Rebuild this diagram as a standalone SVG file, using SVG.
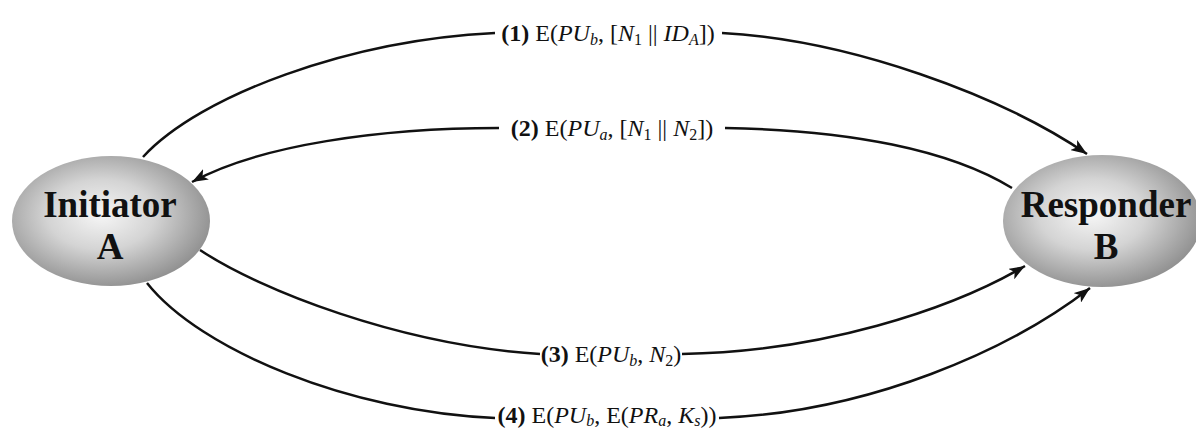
<svg xmlns="http://www.w3.org/2000/svg" width="1196" height="429" viewBox="0 0 1196 429">
<style>
.lbl{font-family:"Liberation Serif","Times New Roman",serif;font-size:24px;fill:#111;}
.node{font-family:"Liberation Serif","Times New Roman",serif;font-size:37px;font-weight:bold;fill:#111;text-anchor:middle;}
.i{font-style:italic;}
.b{font-weight:bold;}
.sub{font-size:16px;}
.conn{fill:none;stroke:#111;stroke-width:2.5;}
</style>
<defs>
<radialGradient id="g" cx="45%" cy="45%" r="60%">
<stop offset="0" stop-color="#f6f6f6"/>
<stop offset="0.45" stop-color="#d4d4d4"/>
<stop offset="1" stop-color="#8a8a8a"/>
</radialGradient>
<marker id="arr" markerUnits="userSpaceOnUse" markerWidth="18" markerHeight="12" refX="16" refY="6" orient="auto">
<path d="M0,0 L16,6 L0,12 L4,6 Z" fill="#111"/>
</marker>
</defs>
<rect width="1196" height="429" fill="#fff"/>
<g id="connectors">
<path class="conn" d="M143,157 C200,95 350,40 495,33"/>
<path class="conn" d="M722,33 C850,40 1000,95 1087,154" marker-end="url(#arr)"/>
<path class="conn" d="M1012,188 C950,150 850,130 725,128"/>
<path class="conn" d="M499,128 C380,128 260,145 192,182" marker-end="url(#arr)"/>
<path class="conn" d="M200,250 C260,290 400,345 540,354"/>
<path class="conn" d="M682,354 C820,352 950,310 1025,266" marker-end="url(#arr)"/>
<path class="conn" d="M147,283 C200,350 350,412 495,418"/>
<path class="conn" d="M719,418 C870,412 1010,350 1090,288" marker-end="url(#arr)"/>
</g>
<g id="label1">
<text class="lbl" x="608" y="41" text-anchor="middle"><tspan class="b">(1)</tspan> E(<tspan class="i">PU</tspan><tspan class="i sub" dy="4">b</tspan><tspan dy="-4">, [</tspan><tspan class="i">N</tspan><tspan class="sub" dy="4">1</tspan><tspan dy="-4"> || </tspan><tspan class="i">ID</tspan><tspan class="i sub" dy="4">A</tspan><tspan dy="-4">])</tspan></text>
</g>
<g id="label2">
<text class="lbl" x="612" y="136" text-anchor="middle"><tspan class="b">(2)</tspan> E(<tspan class="i">PU</tspan><tspan class="i sub" dy="4">a</tspan><tspan dy="-4">, [</tspan><tspan class="i">N</tspan><tspan class="sub" dy="4">1</tspan><tspan dy="-4"> || </tspan><tspan class="i">N</tspan><tspan class="sub" dy="4">2</tspan><tspan dy="-4">])</tspan></text>
</g>
<g id="label3">
<text class="lbl" x="611" y="362" text-anchor="middle"><tspan class="b">(3)</tspan> E(<tspan class="i">PU</tspan><tspan class="i sub" dy="4">b</tspan><tspan dy="-4">, </tspan><tspan class="i">N</tspan><tspan class="sub" dy="4">2</tspan><tspan dy="-4">)</tspan></text>
</g>
<g id="label4">
<text class="lbl" x="607" y="423" text-anchor="middle"><tspan class="b">(4)</tspan> E(<tspan class="i">PU</tspan><tspan class="i sub" dy="3">b</tspan><tspan dy="-3">, E(</tspan><tspan class="i">PR</tspan><tspan class="i sub" dy="3">a</tspan><tspan dy="-3">, </tspan><tspan class="i">K</tspan><tspan class="i sub" dy="3">s</tspan><tspan dy="-3">))</tspan></text>
</g>
<g id="nodeA">
<ellipse cx="111" cy="221" rx="99" ry="65" fill="url(#g)"/>
<text class="node" x="110" y="217">Initiator</text>
<text class="node" x="110" y="259">A</text>
</g>
<g id="nodeB">
<ellipse cx="1102" cy="221" rx="99" ry="66" fill="url(#g)"/>
<text class="node" x="1106" y="217">Responder</text>
<text class="node" x="1106" y="259">B</text>
</g>
</svg>
